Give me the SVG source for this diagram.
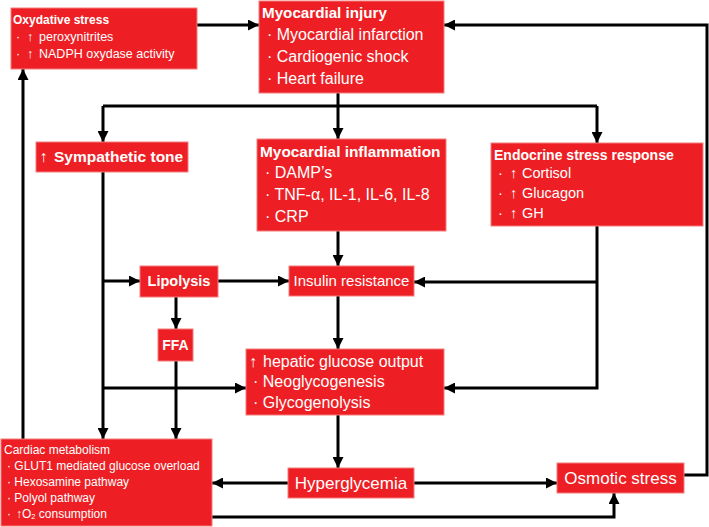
<svg xmlns="http://www.w3.org/2000/svg" width="709" height="527" viewBox="0 0 709 527">
<defs>
<style>
.box{fill:#ED1F24;stroke:#F47C7C;stroke-width:1}
text{fill:#fff;font-family:"Liberation Sans",Arial,sans-serif}
.b{font-weight:bold}
.c{stroke:#000;stroke-width:3;fill:none}
.a{marker-end:url(#arr)}
</style>
<marker id="arr" viewBox="0 0 10 10" refX="10" refY="5" markerWidth="11" markerHeight="11" markerUnits="userSpaceOnUse" orient="auto">
<path d="M0,0 L10,5 L0,10 z" fill="#000"/>
</marker>
</defs>
<rect width="709" height="527" fill="#fff"/>

<g id="connectors">
<path class="c a" d="M197,25 H259"/>
<path class="c a" d="M684,475 H707 V25 H444"/>
<path class="c" d="M103,106 H597"/>
<path class="c a" d="M103,106 V142"/>
<path class="c a" d="M597,106 V143"/>
<path class="c a" d="M338,93 V139"/>
<path class="c a" d="M338,231 V266"/>
<path class="c a" d="M103,172 V439"/>
<path class="c a" d="M103,281 H140"/>
<path class="c a" d="M103,388 H246"/>
<path class="c a" d="M218,281 H289"/>
<path class="c a" d="M176,297 V329"/>
<path class="c a" d="M176,361 V439"/>
<path class="c a" d="M338,296 V349"/>
<path class="c a" d="M597,226 V388 H444"/>
<path class="c a" d="M597,282 H414"/>
<path class="c a" d="M338,415 V468"/>
<path class="c a" d="M288,483 H212"/>
<path class="c a" d="M414,483 H557"/>
<path class="c a" d="M212,517 H614 V493"/>
<path class="c a" d="M23,439 V69"/>
</g>

<g id="oxydative">
<rect class="box" x="11" y="8" width="186" height="61"/>
<text x="13" y="24" class="b" font-size="12">Oxydative stress</text>
<text y="41" font-size="12.5"><tspan x="16">·</tspan><tspan x="27">↑</tspan><tspan x="39">peroxynitrites</tspan></text>
<text y="58" font-size="12.5"><tspan x="16">·</tspan><tspan x="27">↑</tspan><tspan x="39">NADPH oxydase activity</tspan></text>
</g>

<g id="injury">
<rect class="box" x="259" y="1" width="185" height="92"/>
<text x="262" y="18" class="b" font-size="15.2">Myocardial injury</text>
<text x="267" y="40" font-size="16">· Myocardial infarction</text>
<text x="267" y="62" font-size="16">· Cardiogenic shock</text>
<text x="267" y="84" font-size="16">· Heart failure</text>
</g>

<g id="sympathetic">
<rect class="box" x="36" y="142" width="152" height="30"/>
<text y="162" class="b" font-size="15.5"><tspan x="40">↑</tspan><tspan x="54">Sympathetic tone</tspan></text>
</g>

<g id="inflammation">
<rect class="box" x="257" y="139" width="189" height="92"/>
<text x="260" y="157" class="b" font-size="15.4">Myocardial inflammation</text>
<text x="265" y="178" font-size="16">· DAMP’s</text>
<text x="265" y="200" font-size="16">· TNF-α, IL-1, IL-6, IL-8</text>
<text x="265" y="222" font-size="16">· CRP</text>
</g>

<g id="endocrine">
<rect class="box" x="491" y="143" width="212" height="83"/>
<text x="494" y="160" class="b" font-size="14">Endocrine stress response</text>
<text y="178" font-size="14.5"><tspan x="498">·</tspan><tspan x="510">↑</tspan><tspan x="522">Cortisol</tspan></text>
<text y="198" font-size="14.5"><tspan x="498">·</tspan><tspan x="510">↑</tspan><tspan x="522">Glucagon</tspan></text>
<text y="218" font-size="14.5"><tspan x="498">·</tspan><tspan x="510">↑</tspan><tspan x="522">GH</tspan></text>
</g>

<g id="lipolysis">
<rect class="box" x="140" y="266" width="78" height="31"/>
<text x="179" y="286" class="b" font-size="14.5" text-anchor="middle">Lipolysis</text>
</g>

<g id="ffa">
<rect class="box" x="158" y="329" width="35" height="32"/>
<text x="175.5" y="350" class="b" font-size="14" text-anchor="middle">FFA</text>
</g>

<g id="insulin">
<rect class="box" x="289" y="266" width="125" height="30"/>
<text x="351.5" y="286" font-size="15" text-anchor="middle">Insulin resistance</text>
</g>

<g id="hepatic">
<rect class="box" x="246" y="349" width="198" height="66"/>
<text y="367" font-size="16"><tspan x="249">↑</tspan><tspan x="263">hepatic glucose output</tspan></text>
<text x="253" y="387" font-size="16">· Neoglycogenesis</text>
<text x="253" y="408" font-size="16">· Glycogenolysis</text>
</g>

<g id="hyperglycemia">
<rect class="box" x="288" y="468" width="126" height="30"/>
<text x="351" y="489" font-size="17" text-anchor="middle">Hyperglycemia</text>
</g>

<g id="osmotic">
<rect class="box" x="557" y="463" width="127" height="30"/>
<text x="620.5" y="484" font-size="17" text-anchor="middle">Osmotic stress</text>
</g>

<g id="cardiac">
<rect class="box" x="1" y="439" width="211" height="87"/>
<text x="4" y="454" font-size="12">Cardiac metabolism</text>
<text x="7" y="470" font-size="12">· GLUT1 mediated glucose overload</text>
<text x="7" y="486" font-size="12">· Hexosamine pathway</text>
<text x="7" y="502" font-size="12">· Polyol pathway</text>
<text y="518" font-size="12"><tspan x="7">·</tspan><tspan x="16">↑</tspan><tspan x="22">O</tspan><tspan font-size="7.5" dy="1">2</tspan><tspan dy="-1"> consumption</tspan></text>
</g>
</svg>
